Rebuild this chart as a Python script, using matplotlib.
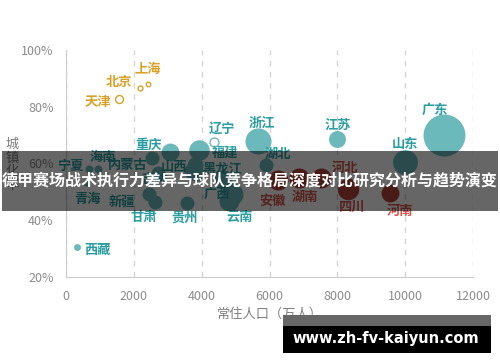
import matplotlib
matplotlib.use('Agg')
import matplotlib.pyplot as plt
import matplotlib.ticker as ticker
from matplotlib.patches import Rectangle

plt.rcParams['font.family'] = ['Noto Sans CJK SC', 'DejaVu Sans']

# province data: resident population (10k people), urbanisation rate, bubble value, group
provinces = ['广东', '浙江', '山东', '福建', '广西', '四川', '云南', '河北', '安徽', '湖南',
             '重庆', '江西', '河南', '江苏', '山西', '陕西', '黑龙江', '湖北', '吉林', '新疆',
             '甘肃', '内蒙古', '贵州', '辽宁', '天津', '宁夏', '海南', '西藏', '青海', '北京', '上海']
population = [11150, 5657, 10000, 3911, 4885, 8302, 4801, 7520, 6255, 6860,
              3075, 4622, 9559, 8000, 3702, 3835, 3789, 5902, 2717, 2445,
              2626, 2530, 3580, 4370, 1560, 682, 930, 330, 600, 2170, 2420]
urban_rate = [0.700, 0.681, 0.605, 0.648, 0.492, 0.510, 0.467, 0.550, 0.542, 0.550,
              0.641, 0.546, 0.495, 0.688, 0.573, 0.568, 0.594, 0.593, 0.567, 0.494,
              0.464, 0.620, 0.460, 0.675, 0.829, 0.580, 0.580, 0.306, 0.531, 0.865, 0.880]
bubble = [440, 170, 155, 105, 120, 115, 100, 100, 100, 100,
          80, 80, 80, 72, 64, 64, 64, 49, 49, 49,
          49, 49, 49, 20, 16, 16, 16, 12, 10, 6, 5]
group = ['teal'] * 23 + ['teal_hollow', 'gold', 'teal', 'teal', 'teal', 'teal', 'gold', 'gold']
for p in ['四川', '河北', '安徽', '湖南', '河南']:
    group[provinces.index(p)] = 'red'

# label offsets in pixels (dx, dy); provinces whose label is hidden in the chart are left out
label_offset = {
    '广东': (-9, 25), '山东': (0, 18), '江苏': (0, 14), '浙江': (4, 18), '湖北': (12, 12),
    '辽宁': (8, 14), '福建': (26, -3), '黑龙江': (28, -4), '重庆': (-22, 7), '内蒙古': (-24, -7),
    '海南': (5, 12), '宁夏': (-19, 3), '青海': (1, -16), '新疆': (-27, -8), '吉林': (-4, -6),
    '甘肃': (-11, -15), '山西': (-18, 4), '贵州': (-3, -14), '广西': (-15, 0),
    '云南': (11, -15), '河北': (24, 10), '安徽': (-6, -21), '湖南': (6, -19),
    '四川': (5, -18), '河南': (10, -18), '北京': (-21, 6), '天津': (-21, -3), '上海': (0, 15),
    '西藏': (20, -3),
}

fill_color = {'teal': '#6CB9BC', 'teal_hollow': 'white', 'gold': 'white', 'red': '#B8443A'}
edge_color = {'teal': '#6CB9BC', 'teal_hollow': '#6CB9BC', 'gold': '#D8A126', 'red': '#B8443A'}
text_color = {'teal': '#2A9D9F', 'teal_hollow': '#2A9D9F', 'gold': '#D8A126', 'red': '#D4564A'}

W, H = 500, 362
fig = plt.figure(figsize=(W / 100, H / 100), dpi=100)
ax = fig.add_axes([66 / W, 1 - 277 / H, (473 - 66) / W, (277 - 50) / H])

for i, name in enumerate(provinces):
    g = group[i]
    ax.scatter(population[i], urban_rate[i], s=bubble[i] * 2.07,
               facecolor=fill_color[g], edgecolor=edge_color[g],
               linewidth=1.0 if g in ('gold', 'teal_hollow') else 0, zorder=3)
for i, name in enumerate(provinces):
    if name not in label_offset:
        continue
    g = group[i]
    dx, dy = label_offset[name]
    ax.annotate(name, (population[i], urban_rate[i]), xytext=(dx, dy),
                textcoords='offset pixels', ha='center', va='center',
                fontsize=9.5, fontweight='bold', color=text_color[g], zorder=5)

ax.set_xlim(0, 12000)
ax.set_ylim(0.2, 1.0)
ax.xaxis.set_major_locator(ticker.MultipleLocator(2000))
ax.yaxis.set_major_locator(ticker.MultipleLocator(0.2))
ax.yaxis.set_major_formatter(ticker.PercentFormatter(1.0, decimals=0))
ax.tick_params(length=0, labelsize=9, labelcolor='#8C8C8C', pad=9)
for s in ['top', 'right']:
    ax.spines[s].set_visible(False)
for s in ['left', 'bottom']:
    ax.spines[s].set_color('#CCCCCC')
ax.grid(axis='x', color='#D5D5D5', linestyle=(0, (4, 4)), linewidth=1)
ax.set_axisbelow(True)

ax.set_xlabel('常住人口（万人）', fontsize=9.5, color='#7F7F7F', labelpad=4)
fig.text(12 / W, 1 - 165 / H, '城\n镇\n化\n率', fontsize=9.5, color='#7F7F7F',
         ha='center', va='center', linespacing=1.05)

# title banner
fig.patches.append(Rectangle((2 / W, 1 - 211 / H), 496 / W, 60 / H, transform=fig.transFigure,
                             facecolor='black', alpha=0.6, zorder=10))
fig.text(250 / W, 1 - 181 / H, '德甲赛场战术执行力差异与球队竞争格局深度对比研究分析与趋势演变',
         fontsize=11.5, fontweight='bold', color='white', ha='center', va='center', zorder=11)

# watermark
fig.patches.append(Rectangle((283 / W, 1 - 353 / H), 208 / W, 38 / H, transform=fig.transFigure,
                             facecolor='#666666', zorder=10))
fig.patches.append(Rectangle((283 / W, 1 - 353 / H), 208 / W, 27 / H, transform=fig.transFigure,
                             facecolor='black', zorder=11))
fig.text(386 / W, 1 - 338 / H, 'www.zh-fv-kaiyun.com', fontsize=10.5, fontweight='bold',
         family='DejaVu Sans', color='white', ha='center', va='center', zorder=12)

fig.savefig('out.png', dpi=100)
